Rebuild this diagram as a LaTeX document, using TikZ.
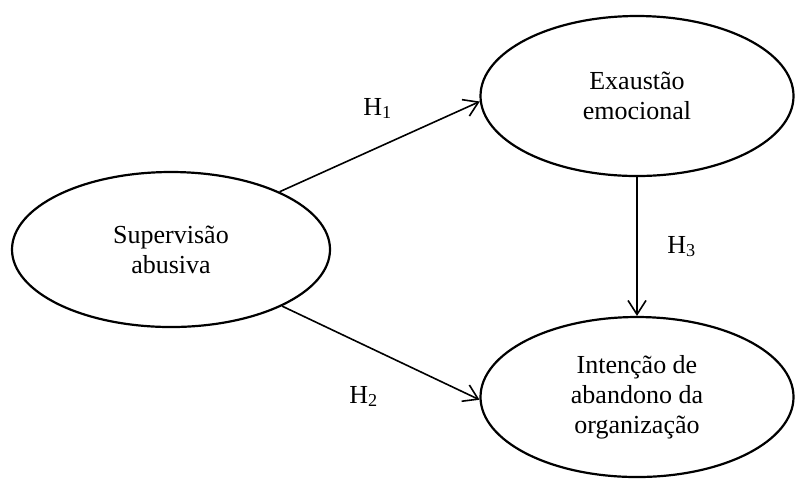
\documentclass[tikz,border=0pt]{standalone}
\usepackage{fontspec}
\setmainfont{Liberation Serif}
\usetikzlibrary{shapes.geometric,arrows.meta}
\begin{document}
\begin{tikzpicture}[x=0.5pt,y=-0.5pt,
	construct/.style={ellipse,draw,line width=1.1pt,inner sep=0pt,align=center,
		font=\fontsize{13}{15}\selectfont},
	hyp/.style={-{Straight Barb[length=7pt,width=9pt]},line width=0.8pt},
	hlabel/.style={anchor=base west,inner sep=0pt,font=\fontsize{13}{15}\selectfont}]
	\useasboundingbox (0,0) rectangle (795,479);
	% Constructs
	\node[construct,minimum width=159pt,minimum height=77.5pt] (sup) at (171,249.5) {Supervisão\\abusiva};
	\node[construct,minimum width=156.5pt,minimum height=80pt] (exa) at (637,96) {Exaustão\\emocional};
	\node[construct,minimum width=156.5pt,minimum height=80pt] (int) at (637,397) {Intenção de\\abandono da\\organização};
	% Hypotheses
	\draw[hyp] (sup.28) -- (exa.182);
	\draw[hyp] (sup.-27) -- (int.181);
	\draw[hyp] (exa.south) -- (int.north);
	\node[hlabel] (h1) at (363,115) {H\textsubscript{1}};
	\node[hlabel] (h2) at (349,403) {H\textsubscript{2}};
	\node[hlabel] (h3) at (667,253) {H\textsubscript{3}};
\end{tikzpicture}
\end{document}
